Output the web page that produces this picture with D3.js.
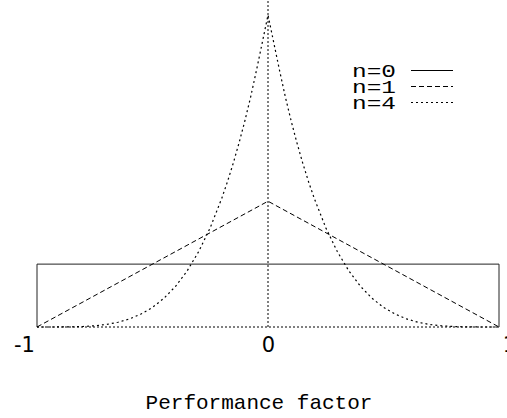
<!DOCTYPE html>
<html>
<head>
<meta charset="utf-8">
<script src="https://cdn.jsdelivr.net/npm/d3@7/dist/d3.min.js"></script>
<style>
  html, body { margin: 0; padding: 0; background: #fff; }
  svg { display: block; }
</style>
</head>
<body>
<svg id="chart" width="507" height="418"></svg>
<script>
// ---- data ----
const seriesLabels = ["n=0", "n=1", "n=4"];

const xRect = [-1, -1, 1, 1];
const yRect = [0, 0.5, 0.5, 0];

const xTri = [-1, 0, 1];
const yTri = [0, 1, 0];

const xPeak = [-1, -0.95, -0.9, -0.85, -0.8, -0.75, -0.7, -0.65, -0.6, -0.55, -0.5,
               -0.45, -0.4, -0.35, -0.3, -0.25, -0.2, -0.175, -0.15, -0.125, -0.1,
               -0.075, -0.05, -0.025, 0, 0.025, 0.05, 0.075, 0.1, 0.125, 0.15, 0.175,
               0.2, 0.25, 0.3, 0.35, 0.4, 0.45, 0.5, 0.55, 0.6, 0.65, 0.7, 0.75, 0.8,
               0.85, 0.9, 0.95, 1];
const yPeak = [0, 0, 0.0003, 0.0013, 0.004, 0.0098, 0.020, 0.0375, 0.064, 0.103, 0.156,
               0.229, 0.324, 0.446, 0.60, 0.79, 1.024, 1.158, 1.305, 1.466, 1.64,
               1.83, 2.04, 2.26, 2.48, 2.26, 2.04, 1.83, 1.64, 1.466, 1.305, 1.158,
               1.024, 0.79, 0.60, 0.446, 0.324, 0.229, 0.156, 0.103, 0.064, 0.0375, 0.020, 0.0098, 0.004,
               0.0013, 0.0003, 0, 0];

const xTicks = [-1, 0, 1];
const xTickLabels = ["-1", "0", "1"];
const xAxisTitle = "Performance factor";

// ---- layout ----
const svg = d3.select("#chart");
const x = d3.scaleLinear().domain([-1, 1]).range([37, 499]);
const y = d3.scaleLinear().domain([0, 2.6]).range([327, 0]);

const styles = [
  { dash: null },
  { dash: "5,3" },
  { dash: "2,3" }
];

const line = d3.line().x(d => x(d[0])).y(d => y(d[1]));
const zip = (a, b) => a.map((v, i) => [v, b[i]]);

// zero axes (dotted)
svg.append("path")
  .attr("d", line([[-1, 0], [1, 0]]))
  .attr("fill", "none").attr("stroke", "#000").attr("stroke-width", 1)
  .attr("stroke-dasharray", "2,2");
svg.append("path")
  .attr("d", line([[0, 0], [0, 2.6]]))
  .attr("fill", "none").attr("stroke", "#000").attr("stroke-width", 1)
  .attr("stroke-dasharray", "2,2");

const seriesData = [zip(xRect, yRect), zip(xTri, yTri), zip(xPeak, yPeak)];

seriesData.forEach((pts, i) => {
  const p = svg.append("path")
    .attr("d", line(pts))
    .attr("fill", "none")
    .attr("stroke", i === 0 ? "#222" : "#000")
    .attr("stroke-width", i === 2 ? 1.2 : 1);
  if (styles[i].dash) p.attr("stroke-dasharray", styles[i].dash);
});

// x axis tick labels
const tickDx = [-13, 0, 10];
const axis = d3.axisBottom(x).tickValues(xTicks).tickSize(0)
  .tickFormat((d, i) => xTickLabels[i]);
const gAxis = svg.append("g").attr("transform", "translate(0,327)").call(axis);
gAxis.select(".domain").remove();
gAxis.selectAll("text")
  .attr("y", 25).attr("dy", 0)
  .attr("dx", (d, i) => tickDx[i])
  .attr("font-family", "DejaVu Sans")
  .attr("font-size", 21)
  .attr("fill", "#000");

// axis title
svg.append("text")
  .attr("x", 259).attr("y", 409)
  .attr("text-anchor", "middle")
  .attr("font-family", "Liberation Mono")
  .attr("font-size", 21)
  .attr("fill", "#000")
  .text(xAxisTitle);

// legend
const legend = svg.append("g");
seriesLabels.forEach((lab, i) => {
  const yy = 70 + i * 16;
  legend.append("text")
    .attr("x", 396).attr("y", yy + 7)
    .attr("text-anchor", "end")
    .attr("font-family", "Liberation Mono")
    .attr("font-size", 18)
    .attr("textLength", 44)
    .attr("lengthAdjust", "spacingAndGlyphs")
    .attr("fill", "#000")
    .text(lab);
  const l = legend.append("line")
    .attr("x1", 411).attr("x2", 453)
    .attr("y1", yy + 0.5).attr("y2", yy + 0.5)
    .attr("stroke", "#000").attr("stroke-width", 1);
  if (styles[i].dash) l.attr("stroke-dasharray", styles[i].dash);
});
</script>
</body>
</html>
